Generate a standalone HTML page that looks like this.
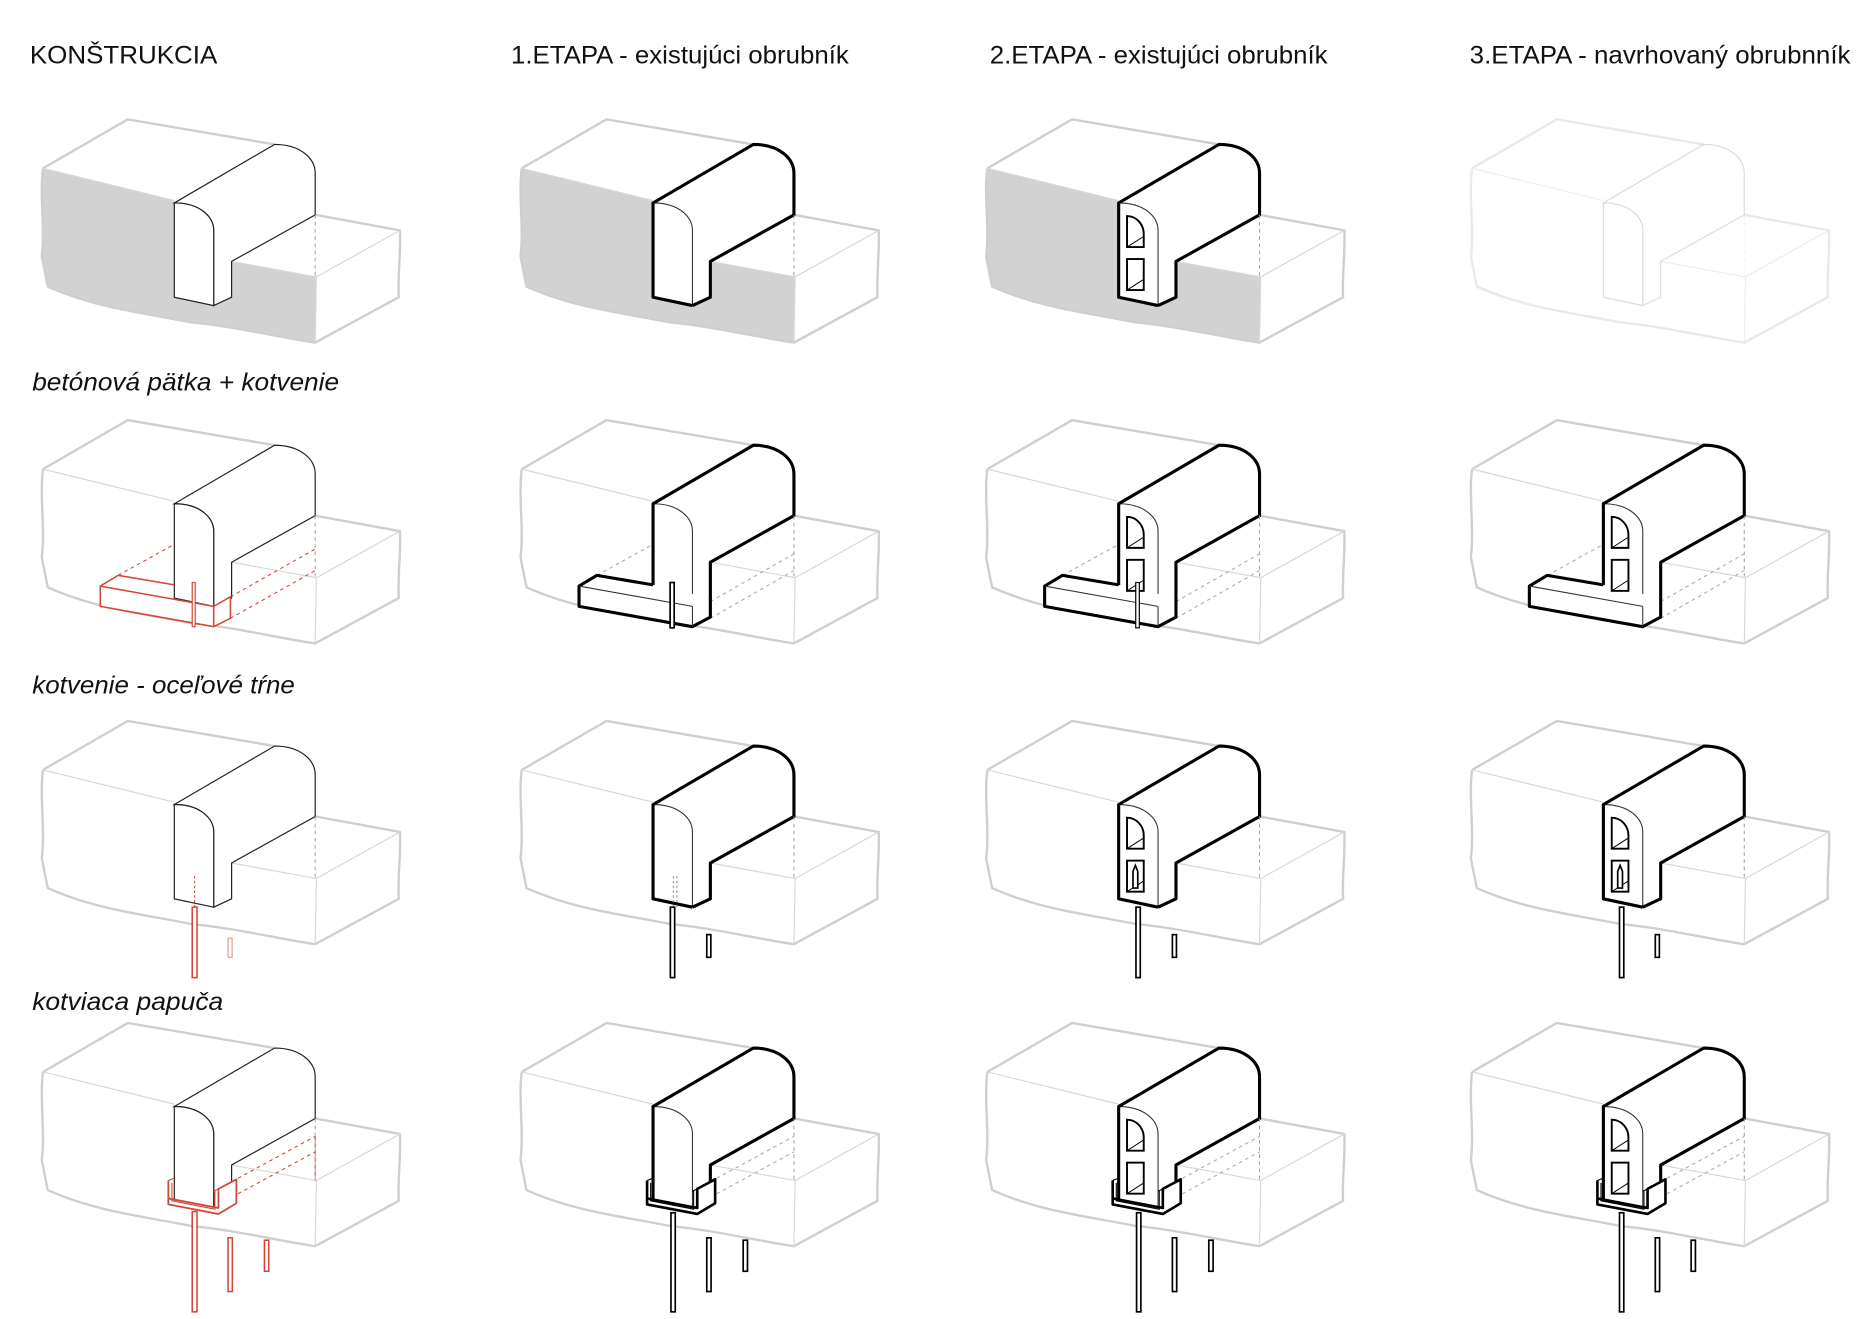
<!DOCTYPE html>
<html><head><meta charset="utf-8"><style>
html,body{margin:0;padding:0;background:#fff;}
svg{display:block;}
text{font-family:"Liberation Sans",sans-serif;fill:#111;}
</style></head><body>
<svg width="1872" height="1319" viewBox="0 0 1568 1105" preserveAspectRatio="none" xmlns="http://www.w3.org/2000/svg">
<defs>
  <g id="ground">
    <path d="M36,141 L107,100 L230,121" fill="none" stroke="#cfcfcf" stroke-width="2"/>
    <path d="M36,141 C33,165 38,190 35,215 L40,240 C80,258 120,262 160,270 C200,274 230,282 264,287 L334,249 C333,230 336,210 335,193 L264,180" fill="none" stroke="#cfcfcf" stroke-width="2"/>
    <path d="M36,141 L146,168 M194,219 L265,232 L335,193 M265,232 L264,287" fill="none" stroke="#d8d8d8" stroke-width="1"/>
  </g>
  <path id="gfill" d="M36,141 L146,168 L146,249 L179,256 L194,249 L194,219 L265,232 L264,287 C230,282 200,274 160,270 C120,262 80,258 40,240 L35,215 C38,190 33,165 36,141 Z" fill="#d2d2d2"/>
  <path id="curbF" d="M146,170 C168,170 179,182 179,193 L179,256 L146,249 Z" fill="#fff"/>
  <path id="curbO" d="M146,170 L230,121 C252,121 264,133 264,145 L264,180 L194,219 L194,249 L179,256 L179,193 C179,182 168,170 146,170 Z" fill="#fff"/>
  <g id="curbThin">
    <use href="#curbO" stroke="#222" stroke-width="1"/>
    <use href="#curbF" stroke="#222" stroke-width="1"/>
    <path d="M264,180 L264,232" stroke="#999" stroke-width="0.8" stroke-dasharray="3,3"/>
  </g>
  <g id="curbThick">
    <use href="#curbO" stroke="none"/>
    <use href="#curbF" stroke="none"/>
    <path d="M146,170 C168,170 179,182 179,193 L179,256" fill="none" stroke="#333" stroke-width="0.9"/>
    <path d="M179,256 L146,249 L146,170 L230,121 C252,121 264,133 264,145 L264,180 L194,219 L194,249 L179,256" fill="none" stroke="#000" stroke-width="2.6" stroke-linejoin="round"/>
    <path d="M264,180 L264,232" stroke="#999" stroke-width="0.8" stroke-dasharray="3,3"/>
  </g>
  <g id="holes" fill="none" stroke="#000">
    <path d="M153,207 L153,181 C161,181 167,188 167,196 L167,207 Z" stroke-width="1.6"/>
    <path d="M153,207 L167,198" stroke-width="0.8"/>
    <rect x="153" y="217" width="14" height="26" stroke-width="1.6"/>
    <path d="M153,243 L167,234" stroke-width="0.8"/>
  </g>
  <g id="arrow">
    <path d="M158,240 L158,226 L160,221 L162,226 L162,240 Z" fill="#fff" stroke="#000" stroke-width="1.4"/>
  </g>
  <g id="footRed" fill="none" stroke="#d2473a" stroke-width="1.3">
    <path d="M99,230 L146,204 M193,248 L264,208 M193,266 L264,226" stroke-dasharray="3,3" stroke-width="0.9"/>
    <path d="M84,239 L179,256 L179,273 L84,256 Z M84,239 L99,230 L146,238 M179,256 L193,248 L193,266 L179,273" fill="#fff"/>
    <rect x="161" y="236" width="2.5" height="37" fill="#fff" stroke-width="1"/>
  </g>
  <g id="footBlack">
    <path d="M99,230 L146,204 M194,252 L264,212 M194,266 L264,226" stroke="#aaa" stroke-width="0.9" stroke-dasharray="3,3" fill="none"/>
    <path d="M146,238 L99,230 L84,239 L84,256 L179,273 L194,265 L194,249" fill="#fff" stroke="#000" stroke-width="2.6" stroke-linejoin="round"/>
    <path d="M84,239 L179,256 M179,256 L179,273" fill="none" stroke="#333" stroke-width="0.9"/>
  </g>
  <g id="shoeBlack" fill="none" stroke="#000">
    <path d="M194,233 L264,195 M194,246 L264,208" stroke="#aaa" stroke-width="0.9" stroke-dasharray="3,3"/>
    <path d="M141,232 L141,252 L183,260 L198,251 L198,231 L183,239 L183,255 L141,247" fill="#fff" stroke-width="2.2" stroke-linejoin="round"/>
    <path d="M141,232 L146,230 M144,234 L144,249 L180,256 L180,240 M183,239 L179,241" stroke-width="0.9"/>
  </g>
  <g id="shoeRed" fill="none" stroke="#d2473a">
    <path d="M194,233 L264,195 M194,246 L264,208 M264,195 L264,232" stroke-width="0.9" stroke-dasharray="3,3"/>
    <path d="M141,232 L141,252 L183,260 L198,251 L198,231 L183,239 L183,255 L141,247" fill="#fff" stroke-width="1.5" stroke-linejoin="round"/>
    <path d="M141,232 L146,230 M144,234 L144,249 L180,256 L180,240 M183,239 L179,241" stroke-width="0.9"/>
  </g>
</defs>

<text x="25" y="53" font-size="21" textLength="157" lengthAdjust="spacingAndGlyphs">KONŠTRUKCIA</text>
<text x="428" y="53" font-size="21" textLength="283" lengthAdjust="spacingAndGlyphs">1.ETAPA - existujúci obrubník</text>
<text x="829" y="53" font-size="21" textLength="283" lengthAdjust="spacingAndGlyphs">2.ETAPA - existujúci obrubník</text>
<text x="1231" y="53" font-size="21" textLength="319" lengthAdjust="spacingAndGlyphs">3.ETAPA - navrhovaný obrubnník</text>
<text x="27" y="327" font-size="21" font-style="italic" textLength="257" lengthAdjust="spacingAndGlyphs">betónová pätka + kotvenie</text>
<text x="27" y="581" font-size="21" font-style="italic" textLength="220" lengthAdjust="spacingAndGlyphs">kotvenie - oceľové tŕne</text>
<text x="27" y="846" font-size="21" font-style="italic" textLength="160" lengthAdjust="spacingAndGlyphs">kotviaca papuča</text>

<g transform="translate(0,0)"><use href="#gfill"/><use href="#ground"/><use href="#curbThin"/></g>
<g transform="translate(401,0)"><use href="#gfill"/><use href="#ground"/><use href="#curbThick"/></g>
<g transform="translate(791,0)"><use href="#gfill"/><use href="#ground"/><use href="#curbThick"/><use href="#holes"/></g>
<g transform="translate(1197,0)" opacity="0.45"><use href="#ground"/><g opacity="0.35"><use href="#curbThin"/></g></g>

<g transform="translate(0,252)"><use href="#ground"/><use href="#curbThin"/><use href="#footRed"/></g>
<g transform="translate(401,252)"><use href="#ground"/><use href="#curbThick"/><use href="#footBlack"/><rect x="160.3" y="236" width="3.4" height="38" fill="#fff" stroke="#000" stroke-width="1.4"/></g>
<g transform="translate(791,252)"><use href="#ground"/><use href="#curbThick"/><use href="#footBlack"/><use href="#holes"/><rect x="160.3" y="236" width="3" height="38" fill="#fff" stroke="#000" stroke-width="1"/></g>
<g transform="translate(1197,252)"><use href="#ground"/><use href="#curbThick"/><use href="#footBlack"/><use href="#holes"/></g>

<g transform="translate(0,504)"><use href="#ground"/><use href="#curbThin"/>
  <path d="M163,230 L163,256" stroke="#d2473a" stroke-width="0.9" stroke-dasharray="2,2"/>
  <rect x="161" y="256" width="4" height="59" fill="#fff" stroke="#d2473a" stroke-width="1.3"/>
  <rect x="191" y="282" width="3.4" height="16" fill="#fff" stroke="#e9a59d" stroke-width="1.1"/>
</g>
<g transform="translate(401,504)"><use href="#ground"/><use href="#curbThick"/>
  <path d="M163,230 L163,256 M166,230 L166,256" stroke="#888" stroke-width="0.8" stroke-dasharray="2,2"/>
  <rect x="160.5" y="256" width="3.6" height="59" fill="#fff" stroke="#000" stroke-width="1.4"/>
  <rect x="191" y="279" width="3.4" height="19" fill="#fff" stroke="#000" stroke-width="1.4"/>
</g>
<g transform="translate(791,504)"><use href="#ground"/><use href="#curbThick"/><use href="#holes"/><use href="#arrow"/>
  <rect x="160.5" y="256" width="3.6" height="59" fill="#fff" stroke="#000" stroke-width="1.4"/>
  <rect x="191" y="279" width="3.4" height="19" fill="#fff" stroke="#000" stroke-width="1.4"/>
</g>
<g transform="translate(1197,504)"><use href="#ground"/><use href="#curbThick"/><use href="#holes"/><use href="#arrow"/>
  <rect x="159.5" y="256" width="3.6" height="59" fill="#fff" stroke="#000" stroke-width="1.4"/>
  <rect x="189.5" y="279" width="3.4" height="19" fill="#fff" stroke="#000" stroke-width="1.4"/>
</g>

<g transform="translate(0,757)"><use href="#ground"/><use href="#curbThin"/><use href="#shoeRed"/>
  <rect x="161" y="258" width="4" height="84" fill="#fff" stroke="#d2473a" stroke-width="1.3"/>
  <rect x="191" y="280" width="3.6" height="45" fill="#fff" stroke="#d2473a" stroke-width="1.3"/>
  <rect x="221.5" y="282" width="3.6" height="26" fill="#fff" stroke="#d2473a" stroke-width="1.3"/>
</g>
<g transform="translate(401,757)"><use href="#ground"/><use href="#curbThick"/><use href="#shoeBlack"/>
  <rect x="161" y="259" width="3.6" height="83" fill="#fff" stroke="#000" stroke-width="1.4"/>
  <rect x="191" y="280" width="3.6" height="45" fill="#fff" stroke="#000" stroke-width="1.4"/>
  <rect x="221.5" y="282" width="3.6" height="26" fill="#fff" stroke="#000" stroke-width="1.4"/>
</g>
<g transform="translate(791,757)"><use href="#ground"/><use href="#curbThick"/><use href="#shoeBlack"/><use href="#holes"/>
  <rect x="161" y="259" width="3.6" height="83" fill="#fff" stroke="#000" stroke-width="1.4"/>
  <rect x="191" y="280" width="3.6" height="45" fill="#fff" stroke="#000" stroke-width="1.4"/>
  <rect x="221.5" y="282" width="3.6" height="26" fill="#fff" stroke="#000" stroke-width="1.4"/>
</g>
<g transform="translate(1197,757)"><use href="#ground"/><use href="#curbThick"/><use href="#shoeBlack"/><use href="#holes"/>
  <rect x="159.5" y="259" width="3.6" height="83" fill="#fff" stroke="#000" stroke-width="1.4"/>
  <rect x="189.5" y="280" width="3.6" height="45" fill="#fff" stroke="#000" stroke-width="1.4"/>
  <rect x="219.5" y="282" width="3.6" height="26" fill="#fff" stroke="#000" stroke-width="1.4"/>
</g>
</svg>
</body></html>
